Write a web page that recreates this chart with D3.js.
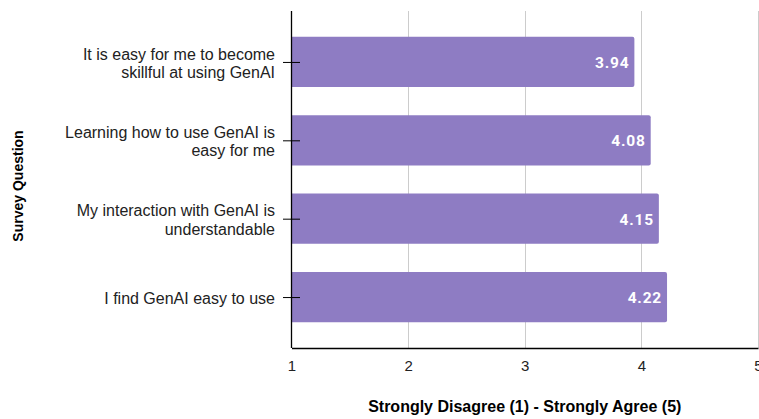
<!DOCTYPE html>
<html>
<head>
<meta charset="utf-8">
<script src="https://cdn.jsdelivr.net/npm/d3@7"></script>
<style>
  html, body { margin: 0; padding: 0; background: #fff; }
  svg { display: block; }
</style>
</head>
<body>
<svg id="chart" width="759" height="419"></svg>
<script>
// Survey items (top to bottom) and their mean agreement scores
const questions = [
  ["It is easy for me to become", "skillful at using GenAI"],
  ["Learning how to use GenAI is", "easy for me"],
  ["My interaction with GenAI is", "understandable"],
  ["I find GenAI easy to use"]
];
const scores = [3.94, 4.08, 4.15, 4.22];
const xTicks = [1, 2, 3, 4, 5];
const xTitle = "Strongly Disagree (1) - Strongly Agree (5)";
const yTitle = "Survey Question";

const plot = { left: 291.5, right: 758, top: 11, bottom: 348 };

const svg = d3.select("#chart");

const x = d3.scaleLinear().domain([1, 5]).range([plot.left, plot.right]);
const y = d3.scaleBand()
  .domain(d3.range(questions.length))
  .range([plot.top, plot.bottom])
  .paddingInner(0.36)
  .paddingOuter(0.33);

// vertical gridlines
svg.append("g")
  .selectAll("line")
  .data(xTicks.slice(1))
  .join("line")
  .attr("x1", d => Math.round(x(d)) + 0.5)
  .attr("x2", d => Math.round(x(d)) + 0.5)
  .attr("y1", plot.top)
  .attr("y2", plot.bottom)
  .attr("stroke", "#cccccc")
  .attr("stroke-width", 1);

// bars, with slightly rounded right corners
const r = 2;
svg.append("g")
  .selectAll("path")
  .data(scores)
  .join("path")
  .attr("fill", "#8e7cc3")
  .attr("d", (d, i) => {
    const x0 = x(1), x1 = x(d), y0 = y(i), y1 = y(i) + y.bandwidth();
    return `M${x0},${y0}H${x1 - r}Q${x1},${y0} ${x1},${y0 + r}V${y1 - r}Q${x1},${y1} ${x1 - r},${y1}H${x0}Z`;
  });

// value labels inside bar ends
svg.append("g")
  .selectAll("text")
  .data(scores)
  .join("text")
  .attr("x", d => x(d) - 5)
  .attr("y", (d, i) => y(i) + y.bandwidth() / 2 + 0.5)
  .attr("dy", "0.36em")
  .attr("text-anchor", "end")
  .attr("fill", "#ffffff")
  .attr("font-family", "Roboto, sans-serif")
  .attr("font-weight", "bold")
  .attr("font-size", 15.5)
  .attr("letter-spacing", "0.8px")
  .text(d => d.toFixed(2));

// x axis
const xAxis = svg.append("g")
  .attr("transform", `translate(0,${plot.bottom})`)
  .call(d3.axisBottom(x).tickValues(xTicks).tickFormat(d3.format("d")).tickSize(0).tickPadding(12));
xAxis.select(".domain").attr("stroke", "#000").attr("stroke-width", 1.3);
xAxis.selectAll("text")
  .attr("font-family", "'Liberation Sans', Arial, sans-serif")
  .attr("font-size", 15)
  .attr("fill", "#222");

// y axis line and tick marks crossing it
svg.append("line")
  .attr("x1", plot.left).attr("x2", plot.left)
  .attr("y1", plot.top).attr("y2", plot.bottom)
  .attr("stroke", "#000").attr("stroke-width", 1.3);

const yTickG = svg.append("g")
  .selectAll("g")
  .data(questions)
  .join("g")
  .attr("transform", (d, i) => `translate(0,${y(i) + y.bandwidth() / 2})`);

yTickG.append("line")
  .attr("x1", plot.left - 8.5).attr("x2", plot.left + 8.5)
  .attr("y1", 0.5).attr("y2", 0.5)
  .attr("stroke", "#000").attr("stroke-width", 1);

const lh = 18.3;
yTickG.append("text")
  .attr("text-anchor", "end")
  .attr("font-family", "'Liberation Sans', Arial, sans-serif")
  .attr("font-size", 16)
  .attr("fill", "#222")
  .selectAll("tspan")
  .data(d => d.map((line, k) => ({ line, k, n: d.length })))
  .join("tspan")
  .attr("x", plot.left - 16.5)
  .attr("y", d => (d.k - (d.n - 1) / 2) * lh + 1)
  .attr("dy", "0.36em")
  .text(d => d.line);

// axis titles
svg.append("text")
  .attr("x", (plot.left + plot.right) / 2)
  .attr("y", 411.5)
  .attr("text-anchor", "middle")
  .attr("font-family", "'Liberation Sans', Arial, sans-serif")
  .attr("font-weight", "bold")
  .attr("font-size", 16)
  .attr("fill", "#000")
  .text(xTitle);

svg.append("text")
  .attr("transform", `translate(23,186) rotate(-90)`)
  .attr("text-anchor", "middle")
  .attr("font-family", "'Liberation Sans', Arial, sans-serif")
  .attr("font-weight", "bold")
  .attr("font-size", 14)
  .attr("fill", "#000")
  .text(yTitle);
</script>
</body>
</html>
